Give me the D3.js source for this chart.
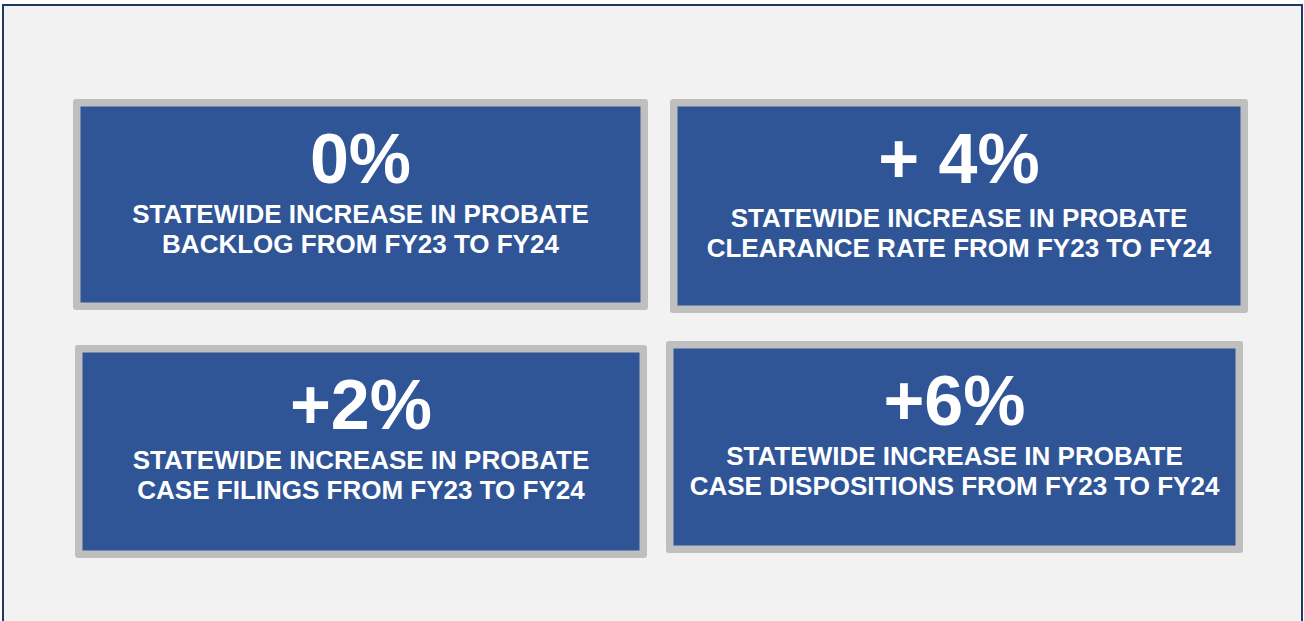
<!DOCTYPE html>
<html>
<head>
<meta charset="utf-8">
<script src="https://cdn.jsdelivr.net/npm/d3@7/dist/d3.min.js"></script>
<style>
  html, body { margin: 0; padding: 0; background: #ffffff; }
  svg { display: block; }
</style>
</head>
<body>
<svg id="chart" width="1304" height="621"></svg>
<script>
// ---- data ----
const values = ["0%", "+ 4%", "+2%", "+6%"];
const line1 = [
  "STATEWIDE INCREASE IN PROBATE",
  "STATEWIDE INCREASE IN PROBATE",
  "STATEWIDE INCREASE IN PROBATE",
  "STATEWIDE INCREASE IN PROBATE"
];
const line2 = [
  "BACKLOG FROM FY23 TO FY24",
  "CLEARANCE RATE FROM FY23 TO FY24",
  "CASE FILINGS FROM FY23 TO FY24",
  "CASE DISPOSITIONS FROM FY23 TO FY24"
];

// ---- layout (outer gray frame of each card) ----
const frames = [
  { x: 73,  y: 99,  w: 575, h: 211, subDy: 0 },
  { x: 670, y: 99,  w: 578, h: 214, subDy: 4 },
  { x: 75,  y: 345, w: 572, h: 213, subDy: 0 },
  { x: 666, y: 341, w: 577, h: 212, subDy: 0 }
];
const pad = 7.5;

const svg = d3.select("#chart");

// background + outer border
svg.append("rect").attr("x", 0).attr("y", 0).attr("width", 1304).attr("height", 621).attr("fill", "#ffffff");
svg.append("rect")
  .attr("x", 3).attr("y", 5).attr("width", 1299).attr("height", 620)
  .attr("fill", "#f2f2f2")
  .attr("stroke", "#1f3864").attr("stroke-width", 2);

const cards = svg.selectAll("g.card")
  .data(values.map((v, i) => ({ v, a: line1[i], b: line2[i], f: frames[i] })))
  .join("g").attr("class", "card");

cards.append("rect")
  .attr("x", d => d.f.x).attr("y", d => d.f.y)
  .attr("width", d => d.f.w).attr("height", d => d.f.h)
  .attr("rx", 3)
  .attr("fill", "#bfbfbf");

cards.append("rect")
  .attr("x", d => d.f.x + pad).attr("y", d => d.f.y + pad)
  .attr("width", d => d.f.w - 2 * pad).attr("height", d => d.f.h - 2 * pad)
  .attr("fill", "#2f5597");

const font = "'Liberation Sans', Arial, sans-serif";

cards.append("text")
  .attr("x", d => d.f.x + d.f.w / 2)
  .attr("y", d => d.f.y + pad + 76)
  .attr("text-anchor", "middle")
  .attr("font-family", font)
  .attr("font-weight", "bold")
  .attr("font-size", 70)
  .attr("fill", "#ffffff")
  .text(d => d.v);

cards.append("text")
  .attr("x", d => d.f.x + d.f.w / 2)
  .attr("y", d => d.f.y + pad + 116 + d.f.subDy)
  .attr("text-anchor", "middle")
  .attr("font-family", font)
  .attr("font-weight", "bold")
  .attr("font-size", 26)
  .attr("fill", "#ffffff")
  .text(d => d.a);

cards.append("text")
  .attr("x", d => d.f.x + d.f.w / 2)
  .attr("y", d => d.f.y + pad + 146 + d.f.subDy)
  .attr("text-anchor", "middle")
  .attr("font-family", font)
  .attr("font-weight", "bold")
  .attr("font-size", 26)
  .attr("fill", "#ffffff")
  .text(d => d.b);
</script>
</body>
</html>
